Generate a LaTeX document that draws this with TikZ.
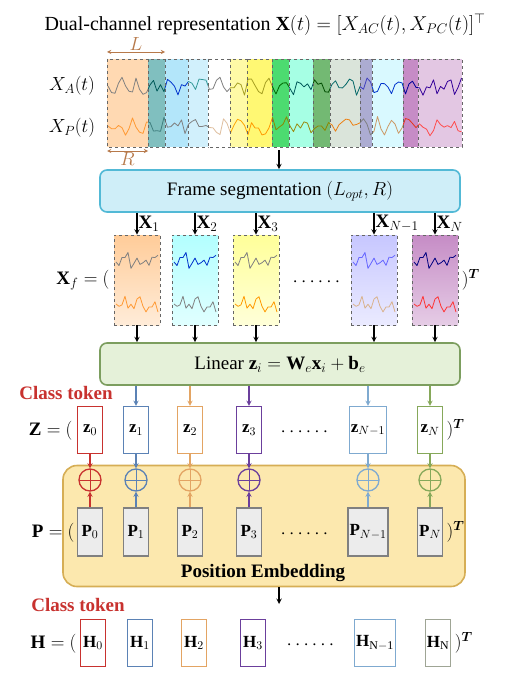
\RequirePackage{fix-cm}
\documentclass[tikz,border=0pt]{standalone}
\usepackage{amsmath}
\usepackage{fontspec}
\setmainfont{Liberation Serif}
\usetikzlibrary{calc,positioning}
\definecolor{tkred}{HTML}{C8322F}
\definecolor{tkblue}{HTML}{5B82B5}
\definecolor{tkorange}{HTML}{E3A463}
\definecolor{tkpurple}{HTML}{6B3F9C}
\definecolor{tksky}{HTML}{7FAAD0}
\definecolor{tkgreen}{HTML}{86A85A}
\definecolor{tkgray}{HTML}{9FA595}
\definecolor{lenbrown}{HTML}{B7794A}
\definecolor{segfill}{HTML}{CFEEF8}
\definecolor{segdraw}{HTML}{52B9D6}
\definecolor{linfill}{HTML}{E5F1D9}
\definecolor{lindraw}{HTML}{7C9E5F}
\definecolor{pefill}{HTML}{FCE8AE}
\definecolor{pedraw}{HTML}{D6AE55}
\newcommand\pxsize[1]{\fontsize{#1}{#1}\selectfont}

\begin{document}
\begin{tikzpicture}[x=1pt,y=-1pt,>=stealth,
	wave/.style={line width=0.8pt,line join=round},
	frm/.style={draw=black!60,dashed,line width=0.6pt,minimum width=46pt,minimum height=90pt,inner sep=0pt},
	bigbox/.style={draw=#1,line width=1.6pt,rounded corners=7pt,minimum width=360pt,minimum height=42pt,font=\pxsize{19}},
	tok/.style={draw=#1,line width=1.3pt,fill=white,minimum width=25pt,minimum height=47pt,inner sep=1.5pt,font=\pxsize{17}},
	posbox/.style={draw=gray,line width=1.3pt,fill=gray!15,minimum width=25pt,minimum height=48pt,inner sep=1.5pt,font=\pxsize{17}},
	plus/.style={circle,draw=#1,line width=1.3pt,minimum size=22pt,inner sep=0pt,
		path picture={\draw[#1,line width=1pt] (path picture bounding box.north)--(path picture bounding box.south)
			(path picture bounding box.west)--(path picture bounding box.east);}},
	arr/.style={->,line width=1.4pt},
	lbl/.style={font=\pxsize{19}},
	ctok/.style={text=tkred,font=\pxsize{19}\bfseries}]
\useasboundingbox[fill=white] (0,0) rectangle (508,682);
\node[font=\pxsize{20}] (ttl) at (265,25) {Dual-channel representation $\mathbf{X}(t)=[X_{AC}(t),X_{PC}(t)]^{\top}$};
\coordinate (la) at (107,52); \coordinate (lb) at (165,52);
\draw[<->,lenbrown,line width=0.9pt] (la) -- (lb) node[midway,above,inner sep=1pt,lbl]{$L$};
\coordinate (ra) at (107,151); \coordinate (rb) at (148,151);
\draw[<->,lenbrown,line width=0.9pt] (ra) -- (rb) node[midway,below,inner sep=1pt,lbl]{$R$};
\node[lbl] (xa) at (72,86) {$X_A(t)$};
\node[lbl] (xp) at (72,128) {$X_P(t)$};
\foreach \a/\b/\fc/\tc/\bc in {107/148/orange!30/gray/orange!80,148/165/teal!50/teal!70!black/teal!50!gray,
	165/188/cyan!30/blue!60!teal/gray,188/208/cyan!18/teal!80/gray,208/230/white/gray/brown!50,
	230/247/yellow!35/olive!80/orange!70!yellow,247/272/yellow!55/olive!80/orange!80!yellow,
	272/289/green!60!teal!70/green!40!black/olive,289/313/green!30!cyan!35/teal!70!black/olive!80!brown,
	313/330/green!50!black!55/green!30!black/olive,330/360/green!15!gray!25/teal!80!black/orange!70!brown,
	360/372/blue!30!gray!50/blue!50!gray/gray,372/403/blue!15!cyan!15/blue!60!teal/brown!80,
	403/418/violet!45/blue!60!black/red!60!brown,418/462/violet!22/blue!50!violet!80!black/red!70}{
	\fill[\fc] (\a,59) rectangle (\b,147);
	\begin{scope}
		\clip (\a,59) rectangle (\b,147);
		\pgfmathsetseed{12}
		\draw[wave,\tc] (108,86) \foreach \i in {1,...,101}{ -- ({108+3.5*\i},{86+4*sin(\i*77)+6*rand}) };
		\pgfmathsetseed{34}
		\draw[wave,\bc] (108,126) \foreach \i in {1,...,101}{ -- ({108+3.5*\i},{126+4*sin(\i*83)+6*rand}) };
	\end{scope}
	\draw[dashed,black!60,line width=0.6pt] (\a,59) rectangle (\b,147);
}
\coordinate (sb) at (279,150);
\node[bigbox=segdraw,fill=segfill] (fseg) at (280,191) {Frame segmentation $(L_{opt},R)$};
\draw[arr] (sb) -- (sb |- fseg.north);
\foreach \n/\px/\tp/\bt/\tc/\bc in {f1/137/orange!40/orange!15/gray/orange!80,f2/195/cyan!30/cyan!12/blue!60!teal/gray,
	f3/256/yellow!40/yellow!15/gray/orange!80!yellow,fm/374/blue!22/blue!8/blue!60/brown!60,
	fn/435/violet!45/violet!20/blue!50!black/red!80}{
	\node[frm,top color=\tp,bottom color=\bt] (\n) at (\px,280) {};
	\pgfmathsetseed{5}
	\draw[wave,\tc] (\px-21,262) \foreach \i in {1,...,14}{ -- ({\px-21+3*\i},{262+4*sin(\i*77)+7*rand}) };
	\pgfmathsetseed{9}
	\draw[wave,\bc] (\px-21,304) \foreach \i in {1,...,14}{ -- ({\px-21+3*\i},{304+4*sin(\i*83)+7*rand}) };
}
\node[lbl,anchor=east] (xf) at (113,280) {$\mathbf{X}_f=($};
\node[lbl,anchor=west] (xft) at (fn.east) {$)^{\boldsymbol{T}}$};
\node[lbl] (xfd) at (318,282) {$\cdots\cdots$};
\node[bigbox=lindraw,fill=linfill] (lin) at (280,364) {Linear $\mathbf{z}_i=\mathbf{W}_e\mathbf{x}_i+\mathbf{b}_e$};
\foreach \n/\l in {f1/1,f2/2,f3/3,fm/{N-1},fn/N}{
	\draw[arr] (\n.north |- fseg.south) -- (\n.north) node[midway,right,inner sep=1pt,lbl]{$\mathbf{X}_{\l}$};
	\draw[arr] (\n.south) -- (\n.south |- lin.north);
}
\node[ctok] (ct1) at (66,393) {Class token};
\node[draw=pedraw,fill=pefill,line width=1.6pt,rounded corners=14pt,minimum width=402pt,minimum height=121pt] (pe) at (264,526) {};
\node[font=\pxsize{19}\bfseries] (pet) at (263,573) {Position Embedding};
\foreach \n/\px/\c/\l in {0/90/tkred/0,1/136/tkblue/1,2/190/tkorange/2,3/249/tkpurple/3,m/368/tksky/{N-1},n/430/tkgreen/N}{
	\node[tok=\c] (z\n) at (\px,430) {$\mathbf{z}_{\l}$};
	\node[plus=\c] (c\n) at (\px,480) {};
	\node[posbox] (p\n) at (\px,532) {$\mathbf{P}_{\l}$};
	\draw[->,\c,line width=1.3pt] (z\n) -- (c\n);
	\draw[->,\c,line width=1.3pt] (p\n) -- (c\n);
}
\foreach \n/\c in {1/tkblue,2/tkorange,3/tkpurple,m/tksky,n/tkgreen}
	\draw[->,\c,line width=1.3pt] (z\n.north |- lin.south) -- (z\n.north);
\node[lbl,anchor=east] (zl) at (76,431) {$\mathbf{Z}=($};
\node[lbl,anchor=west] (zt) at (zn.east) {$)^{\boldsymbol{T}}$};
\node[lbl] (zd) at (306,432) {$\cdots\cdots$};
\node[lbl,anchor=east] (pl) at (78,533) {$\mathbf{P}=($};
\node[lbl,anchor=west] (pt) at (pn.east) {$)^{\boldsymbol{T}}$};
\node[lbl] (pd) at (306,534) {$\cdots\cdots$};
\coordinate (hin) at (279,604);
\draw[arr] (hin |- pe.south) -- (hin);
\node[ctok] (ct2) at (78,605) {Class token};
\foreach \n/\px/\c/\l in {0/93/tkred/0,1/140/tkblue/1,2/194/tkorange/2,3/253/tkpurple/3,m/375/tksky/{\mathrm{N-1}},n/438/tkgray/\mathrm{N}}
	\node[tok=\c] (h\n) at (\px,643) {$\mathbf{H}_{\l}$};
\node[lbl,anchor=east] (hl) at (80,644) {$\mathbf{H}=($};
\node[lbl,anchor=west] (ht) at (hn.east) {$)^{\boldsymbol{T}}$};
\node[lbl] (hd) at (312,645) {$\cdots\cdots$};
\end{tikzpicture}
\end{document}
